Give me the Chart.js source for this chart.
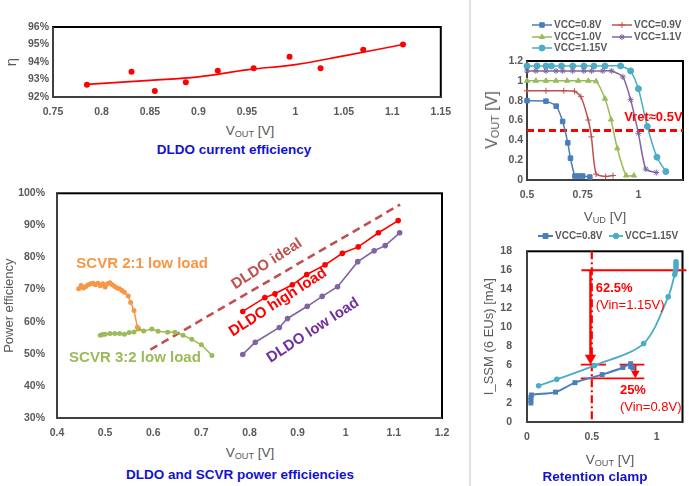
<!DOCTYPE html>
<html><head><meta charset="utf-8">
<script src="https://cdn.jsdelivr.net/npm/chart.js@4.4.1/dist/chart.umd.min.js"></script>
<style>
html,body{margin:0;padding:0;background:#fff;}
#root{position:relative;width:689px;height:486px;overflow:hidden;font-family:"Liberation Sans",Arial,sans-serif;}
canvas{position:absolute;}
.t{position:absolute;transform:translate(-50%,-50%);white-space:nowrap;color:#595959;font-size:13.5px;line-height:1;}
.t sub{font-size:0.68em;vertical-align:baseline;position:relative;top:0.22em;}
.r{transform:translate(-50%,-50%) rotate(-90deg);}
.cap{color:#1212D0;font-weight:bold;font-size:13.5px;}
#sep{position:absolute;left:469px;top:0;width:2px;height:486px;background:#E2E2E2;}
</style></head><body>
<div id="root">
<div id="sep"></div>
<canvas id="c1" width="460" height="120" style="left:0;top:0"></canvas>
<canvas id="c2" width="460" height="265" style="left:0;top:175px"></canvas>
<canvas id="c3" width="219" height="230" style="left:470px;top:0"></canvas>
<canvas id="c4" width="219" height="256" style="left:470px;top:230px"></canvas>
<div class="t" style="left:250px;top:131px">V<sub>OUT</sub> [V]</div>
<div class="t cap" style="left:234px;top:150px">DLDO current efficiency</div>
<div class="t" style="left:250px;top:453px">V<sub>OUT</sub> [V]</div>
<div class="t cap" style="left:240px;top:475px">DLDO and SCVR power efficiencies</div>
<div class="t" style="left:605px;top:217px">V<sub>UD</sub> [V]</div>
<div class="t r" style="left:492px;top:120px;font-size:16px">V<sub>OUT</sub> [V]</div>
<div class="t" style="left:610px;top:460px">V<sub>OUT</sub> [V]</div>
<div class="t cap" style="left:595px;top:477px">Retention clamp</div>
</div>
<script>
// ---------- Chart 1: DLDO current efficiency ----------
const effX = [0.785,0.831,0.855,0.887,0.920,0.957,0.994,1.026,1.070,1.111];
const effY = [92.7,93.45,92.35,92.85,93.5,93.65,94.3,93.65,94.7,95.0];
const effTrendX = [0.785,0.85,0.90,0.95,1.00,1.05,1.111];
const effTrendY = [92.72,92.95,93.15,93.55,93.85,94.35,95.0];
const effXTicks = [0.75,0.8,0.85,0.9,0.95,1,1.05,1.1,1.15];
const effYTicks = [92,93,94,95,96];

// ---------- Chart 2: power efficiencies ----------
const scvr21X = [0.445,0.45,0.455,0.46,0.465,0.47,0.475,0.48,0.485,0.49,0.495,0.50,0.505,0.51,0.515,0.52,0.525,0.53,0.535,0.54,0.548,0.553,0.56,0.567];
const scvr21Y = [70.3,71.3,70.5,71.0,71.5,71.8,72.0,71.5,72.0,71.2,71.8,70.8,71.8,72.1,71.5,71.0,70.5,70.3,69.7,69.2,68.0,66.0,63.5,58.3];
const scvr32X = [0.49,0.495,0.50,0.51,0.52,0.53,0.54,0.55,0.56,0.57,0.58,0.597,0.61,0.63,0.645,0.662,0.68,0.70,0.722];
const scvr32Y = [55.8,56.0,56.1,56.3,56.3,56.3,56.1,56.6,56.8,57.7,57.1,57.7,57.0,56.7,56.7,55.8,54.5,52.8,49.5];
const idealX = [0.594,1.113];
const idealY = [51.3,96.5];
const highX = [0.786,0.832,0.853,0.889,0.919,0.957,0.993,1.026,1.068,1.109];
const highY = [63.2,67.5,68.7,71.5,74.7,77.7,81.3,83.3,87.7,91.5];
const lowX = [0.786,0.812,0.862,0.879,0.920,0.951,0.983,1.025,1.059,1.082,1.112];
const lowY = [49.8,53.6,58.2,61.0,64.8,67.9,70.9,78.7,82.1,83.7,87.7];
const pwrXTicks = [0.4,0.5,0.6,0.7,0.8,0.9,1,1.1,1.2];
const pwrYTicks = [30,40,50,60,70,80,90,100];

// ---------- Chart 3: VOUT vs VUD ----------
const vud08 = [0.5,0.585,0.631,0.66,0.683,0.695,0.715,0.735,0.75,0.782];
const vout08 = [0.8,0.795,0.745,0.59,0.375,0.22,0.04,0.04,0.04,0.03];
const vud09 = [0.5,0.585,0.665,0.713,0.742,0.775,0.789,0.81,0.853,0.886];
const vout09 = [0.9,0.9,0.9,0.895,0.84,0.605,0.435,0.06,0.035,0.045];
const vud10 = [0.5,0.54,0.585,0.63,0.68,0.73,0.775,0.81,0.85,0.877,0.905,0.945,0.98];
const vout10 = [1,1,1,1,1,1,1,0.995,0.82,0.61,0.32,0.045,0.045];
const vud11 = [0.5,0.54,0.585,0.63,0.66,0.705,0.755,0.79,0.84,0.88,0.93,0.965,1.0,1.033,1.08];
const vout11 = [1.1,1.1,1.1,1.1,1.1,1.1,1.1,1.1,1.1,1.1,1.04,0.81,0.47,0.11,0.075];
const vud115 = [0.5,0.545,0.585,0.61,0.655,0.705,0.755,0.8,0.85,0.92,0.965,1.0,1.04,1.083,1.123];
const vout115 = [1.15,1.15,1.15,1.15,1.15,1.15,1.15,1.15,1.15,1.15,1.1,0.92,0.54,0.23,0.085];
const vretX = [0.5,1.2];
const vretY = [0.5,0.5];
const vudXTicks = [0.5,0.75,1];
const voutYTicks = [0,0.2,0.4,0.6,0.8,1,1.2];
const vccLabels = ['VCC=0.8V','VCC=0.9V','VCC=1.0V','VCC=1.1V','VCC=1.15V'];

// ---------- Chart 4: retention clamp ----------
const ssm08X = [0.03,0.03,0.03,0.035,0.22,0.37,0.58,0.74,0.8,0.8,0.815];
const ssm08Y = [2.0,2.3,2.6,2.85,3.15,4.15,5.0,5.75,6.15,5.85,5.7];
const ssm115X = [0.09,0.23,0.52,0.9,1.09,1.14,1.145,1.15,1.15,1.15];
const ssm115Y = [3.82,4.5,5.95,8.27,13.2,15.55,15.9,16.3,16.6,16.9];
const clampVX = [0.5,0.5];   const clampVY = [18,0];
const lvl16X = [0.42,1.23];  const lvl16Y = [16,16];
const lvl6aX = [0.415,0.61]; const lvl6aY = [6.05,6.05];
const lvl6bX = [0.715,0.905];const lvl6bY = [6.05,6.05];
const lvl46X = [0.415,0.905];const lvl46Y = [4.6,4.6];
const arrowBigX = [0.49,0.49];   const arrowBigY = [16,6.75];
const arrowSmallX = [0.836,0.836]; const arrowSmallY = [6.05,5.15];
const ssmXTicks = [0,0.5,1];
const ssmYTicks = [0,2,4,6,8,10,12,14,16,18];
const ssmLabels = ['VCC=0.8V','VCC=1.15V'];

// ---------- helpers ----------
const FONT = "'Liberation Sans', Arial, sans-serif";
Chart.defaults.font.family = FONT;
Chart.defaults.animation = false;
const GRAY = '#595959';
const pts = (xs, ys) => xs.map((x, i) => ({x, y: ys[i]}));
const tickFont = {size: 10.5, weight: 'bold', family: FONT};

function axisX(min, max, vals, h, pad) {
  return {type: 'linear', min, max,
    afterBuildTicks: s => { s.ticks = vals.map(v => ({value: v})); },
    afterFit: s => { s.height = h; },
    grid: {display: false, drawTicks: false}, border: {display: false},
    ticks: {font: tickFont, color: GRAY, padding: pad, maxRotation: 0, autoSkip: false, callback: v => String(v)}};
}
function axisY(min, max, vals, w, pad, fmt, title) {
  const a = {type: 'linear', min, max,
    afterBuildTicks: s => { s.ticks = vals.map(v => ({value: v})); },
    afterFit: s => { s.width = w; },
    grid: {display: false, drawTicks: false}, border: {display: false},
    ticks: {font: tickFont, color: GRAY, padding: pad, autoSkip: false, callback: fmt || (v => String(v))}};
  if (title) a.title = title;
  return a;
}

const framePlugin = {
  id: 'frame',
  beforeDatasetsDraw(chart, args, o) {
    const {left, top, right, bottom} = chart.chartArea;
    const ctx = chart.ctx;
    ctx.save();
    ctx.lineWidth = 2;
    ctx.strokeStyle = '#000';
    ctx.strokeRect(left, top, right - left, bottom - top);
    ctx.strokeStyle = o.axisColor || '#404040';
    ctx.beginPath(); ctx.moveTo(left, top); ctx.lineTo(left, bottom); ctx.lineTo(right, bottom); ctx.stroke();
    ctx.restore();
  }
};
const textPlugin = {
  id: 'texts',
  afterDatasetsDraw(chart, args, o) {
    if (!o.items) return;
    const ctx = chart.ctx, xs = chart.scales.x, ys = chart.scales.y;
    o.items.forEach(it => {
      ctx.save();
      ctx.translate(xs.getPixelForValue(it.x), ys.getPixelForValue(it.y));
      ctx.rotate((it.rot || 0) * Math.PI / 180);
      ctx.font = it.font; ctx.fillStyle = it.color;
      ctx.textAlign = it.align || 'center'; ctx.textBaseline = 'middle';
      ctx.fillText(it.text, 0, 0);
      ctx.restore();
    });
  }
};
const legendPlugin = {
  id: 'lgd',
  afterDraw(chart, args, o) {
    if (!o.items) return;
    const ctx = chart.ctx;
    o.items.forEach(it => {
      const ds = chart.data.datasets[it.ds];
      ctx.save();
      ctx.strokeStyle = ds.borderColor; ctx.lineWidth = ds.borderWidth || 1.5;
      ctx.beginPath(); ctx.moveTo(it.x, it.y); ctx.lineTo(it.x + it.len, it.y); ctx.stroke();
      ctx.fillStyle = ds.backgroundColor; ctx.strokeStyle = ds.borderColor; ctx.lineWidth = 1;
      Chart.helpers.drawPoint(ctx, {pointStyle: ds.pointStyle, radius: ds.pointRadius, rotation: 0, borderWidth: 1}, it.x + it.len / 2, it.y);
      ctx.font = o.font; ctx.fillStyle = o.color; ctx.textAlign = 'left'; ctx.textBaseline = 'middle';
      ctx.fillText(ds.label, it.x + it.len + 2, it.y);
      ctx.restore();
    });
  }
};
Chart.register(framePlugin, textPlugin, legendPlugin);

const basePlugins = {legend: {display: false}, tooltip: {enabled: false}};

// ---------- Chart 1 ----------
new Chart(document.getElementById('c1'), {
  type: 'line',
  data: {datasets: [
    {label: 'trend', data: pts(effTrendX, effTrendY), borderColor: '#FF0000', borderWidth: 1.6, pointRadius: 0, tension: 0.4, fill: false},
    {label: 'eff', data: pts(effX, effY), showLine: false, borderColor: '#FF0000', backgroundColor: '#FF0000', pointRadius: 3, pointBorderWidth: 0}
  ]},
  options: {responsive: false, animation: false, plugins: basePlugins,
    layout: {padding: {top: 27, right: 13, left: 0, bottom: 0}},
    scales: {
      x: axisX(0.75, 1.15, effXTicks, 23, 9),
      y: axisY(92, 96, effYTicks, 53, 4, v => v + '%',
        {display: true, text: 'η', color: GRAY, font: {size: 15, family: FONT}, padding: {top: 3, bottom: 0}})
    }}
});

// ---------- Chart 2 ----------
const bold15 = "bold 15px " + FONT;
new Chart(document.getElementById('c2'), {
  type: 'line',
  data: {datasets: [
    {label: 'SCVR 2:1 low load', data: pts(scvr21X, scvr21Y), borderColor: '#F79646', backgroundColor: '#F79646', borderWidth: 1.5, pointRadius: 2.5, pointBorderWidth: 0},
    {label: 'SCVR 3:2 low load', data: pts(scvr32X, scvr32Y), borderColor: '#9BBB59', backgroundColor: '#9BBB59', borderWidth: 1.5, pointRadius: 2.5, pointBorderWidth: 0},
    {label: 'DLDO ideal', data: pts(idealX, idealY), borderColor: '#C0504D', borderWidth: 2.6, borderDash: [8, 5], pointRadius: 0},
    {label: 'DLDO high load', data: pts(highX, highY), borderColor: '#FF0000', backgroundColor: '#FF0000', borderWidth: 1.6, pointRadius: 2.8, pointBorderWidth: 0},
    {label: 'DLDO low load', data: pts(lowX, lowY), borderColor: '#8064A2', backgroundColor: '#8064A2', borderWidth: 1.6, pointRadius: 2.8, pointBorderWidth: 0}
  ]},
  options: {responsive: false, animation: false,
    plugins: Object.assign({}, basePlugins, {texts: {items: [
      {text: 'SCVR 2:1 low load', x: 0.577, y: 78.1, color: '#F79646', font: bold15},
      {text: 'SCVR 3:2 low load', x: 0.562, y: 48.6, color: '#9BBB59', font: bold15},
      {text: 'DLDO ideal', x: 0.836, y: 78.0, rot: -33, color: '#C0504D', font: bold15},
      {text: 'DLDO high load', x: 0.859, y: 66.0, rot: -33, color: '#FF0000', font: bold15},
      {text: 'DLDO low load', x: 0.932, y: 57.3, rot: -33, color: '#7030A0', font: bold15}
    ]}}),
    layout: {padding: {top: 10, right: 18, left: 0, bottom: 0}},
    scales: {
      x: axisX(0.4, 1.2, pwrXTicks, 22, 9),
      y: axisY(30, 100, pwrYTicks, 57, 12, v => v + '%',
        {display: true, text: 'Power efficiency', color: GRAY, font: {size: 13, family: FONT}, padding: {top: 2, bottom: 0}})
    }}
});

// ---------- Chart 3 ----------
const c3colors = ['#4A7EBB', '#C0504D', '#9BBB59', '#8064A2', '#4BACC6'];
const c3styles = ['rect', 'cross', 'triangle', 'star', 'circle'];
const c3x = [vud08, vud09, vud10, vud11, vud115];
const c3y = [vout08, vout09, vout10, vout11, vout115];
const c3sets = vccLabels.map((lab, i) => ({
  label: lab, data: pts(c3x[i], c3y[i]), borderColor: c3colors[i], backgroundColor: c3colors[i],
  borderWidth: 1.5, pointStyle: c3styles[i], pointRadius: i === 0 ? 3.2 : 3, pointBorderWidth: 1, tension: 0.2, clip: false
}));
c3sets.push({label: 'Vret', data: pts(vretX, vretY), borderColor: '#FF0000', borderWidth: 3, borderDash: [7, 4], pointRadius: 0});
new Chart(document.getElementById('c3'), {
  type: 'line',
  data: {datasets: c3sets},
  options: {responsive: false, animation: false,
    plugins: Object.assign({}, basePlugins, {
      texts: {items: [{text: 'Vret≈0.5V', x: 1.067, y: 0.635, color: '#FF0000', font: "bold 13px " + FONT}]},
      lgd: {font: "bold 10px " + FONT, color: GRAY, items: [
        {ds: 0, x: 62, y: 25, len: 20}, {ds: 1, x: 142, y: 25, len: 20},
        {ds: 2, x: 62, y: 37, len: 20}, {ds: 3, x: 142, y: 37, len: 20},
        {ds: 4, x: 62, y: 48, len: 20}]}
    }),
    layout: {padding: {top: 61, right: 6, left: 0, bottom: 0}},
    scales: {
      x: axisX(0.5, 1.2, vudXTicks, 50, 9),
      y: axisY(0, 1.2, voutYTicks, 57, 4)
    }}
});

// ---------- Chart 4 ----------
const redLine = (xs, ys, extra) => Object.assign({label: '', data: pts(xs, ys), borderColor: '#FF0000', backgroundColor: '#FF0000', borderWidth: 1.8, pointRadius: 0, clip: false}, extra || {});
new Chart(document.getElementById('c4'), {
  type: 'line',
  data: {datasets: [
    {label: ssmLabels[0], data: pts(ssm08X, ssm08Y), borderColor: '#4A7EBB', backgroundColor: '#4A7EBB', borderWidth: 2, pointStyle: 'rect', pointRadius: 3.5, pointBorderWidth: 0, tension: 0.3, clip: false},
    {label: ssmLabels[1], data: pts(ssm115X, ssm115Y), borderColor: '#4BACC6', backgroundColor: '#4BACC6', borderWidth: 1.8, pointStyle: 'circle', pointRadius: 2.8, pointBorderWidth: 0, tension: 0.3, clip: false},
    redLine(clampVX, clampVY, {borderWidth: 2.2, borderDash: [8, 3, 2, 3]}),
    redLine(lvl16X, lvl16Y),
    redLine(lvl6aX, lvl6aY),
    redLine(lvl6bX, lvl6bY),
    redLine(lvl46X, lvl46Y),
    redLine(arrowBigX, arrowBigY, {borderWidth: 2.5, pointRadius: [0, 6.5], pointStyle: 'triangle', pointRotation: 180, pointBorderWidth: 0}),
    redLine(arrowSmallX, arrowSmallY, {borderWidth: 2.2, pointRadius: [0, 5], pointStyle: 'triangle', pointRotation: 180, pointBorderWidth: 0})
  ]},
  options: {responsive: false, animation: false,
    plugins: Object.assign({}, basePlugins, {
      texts: {items: [
        {text: '62.5%', x: 0.53, y: 14.06, align: 'left', color: '#FF0000', font: "bold 13px " + FONT},
        {text: '(Vin=1.15V)', x: 0.53, y: 12.3, align: 'left', color: '#FF0000', font: "13px " + FONT},
        {text: '25%', x: 0.717, y: 3.33, align: 'left', color: '#FF0000', font: "bold 13px " + FONT},
        {text: '(Vin=0.8V)', x: 0.717, y: 1.56, align: 'left', color: '#FF0000', font: "13px " + FONT}
      ]},
      lgd: {font: "bold 10px " + FONT, color: GRAY, items: [
        {ds: 0, x: 68, y: 6, len: 15}, {ds: 1, x: 139, y: 6, len: 14}]}
    }),
    layout: {padding: {top: 19, right: 3, left: 0, bottom: 0}},
    scales: {
      x: axisX(0, 1.2, ssmXTicks, 64, 9),
      y: axisY(0, 18, ssmYTicks, 57, 15, null,
        {display: true, text: 'I_SSM (6 EUs) [mA]', color: GRAY, font: {size: 13, family: FONT}, padding: {top: 12, bottom: 0}})
    }}
});
</script>
</body></html>
